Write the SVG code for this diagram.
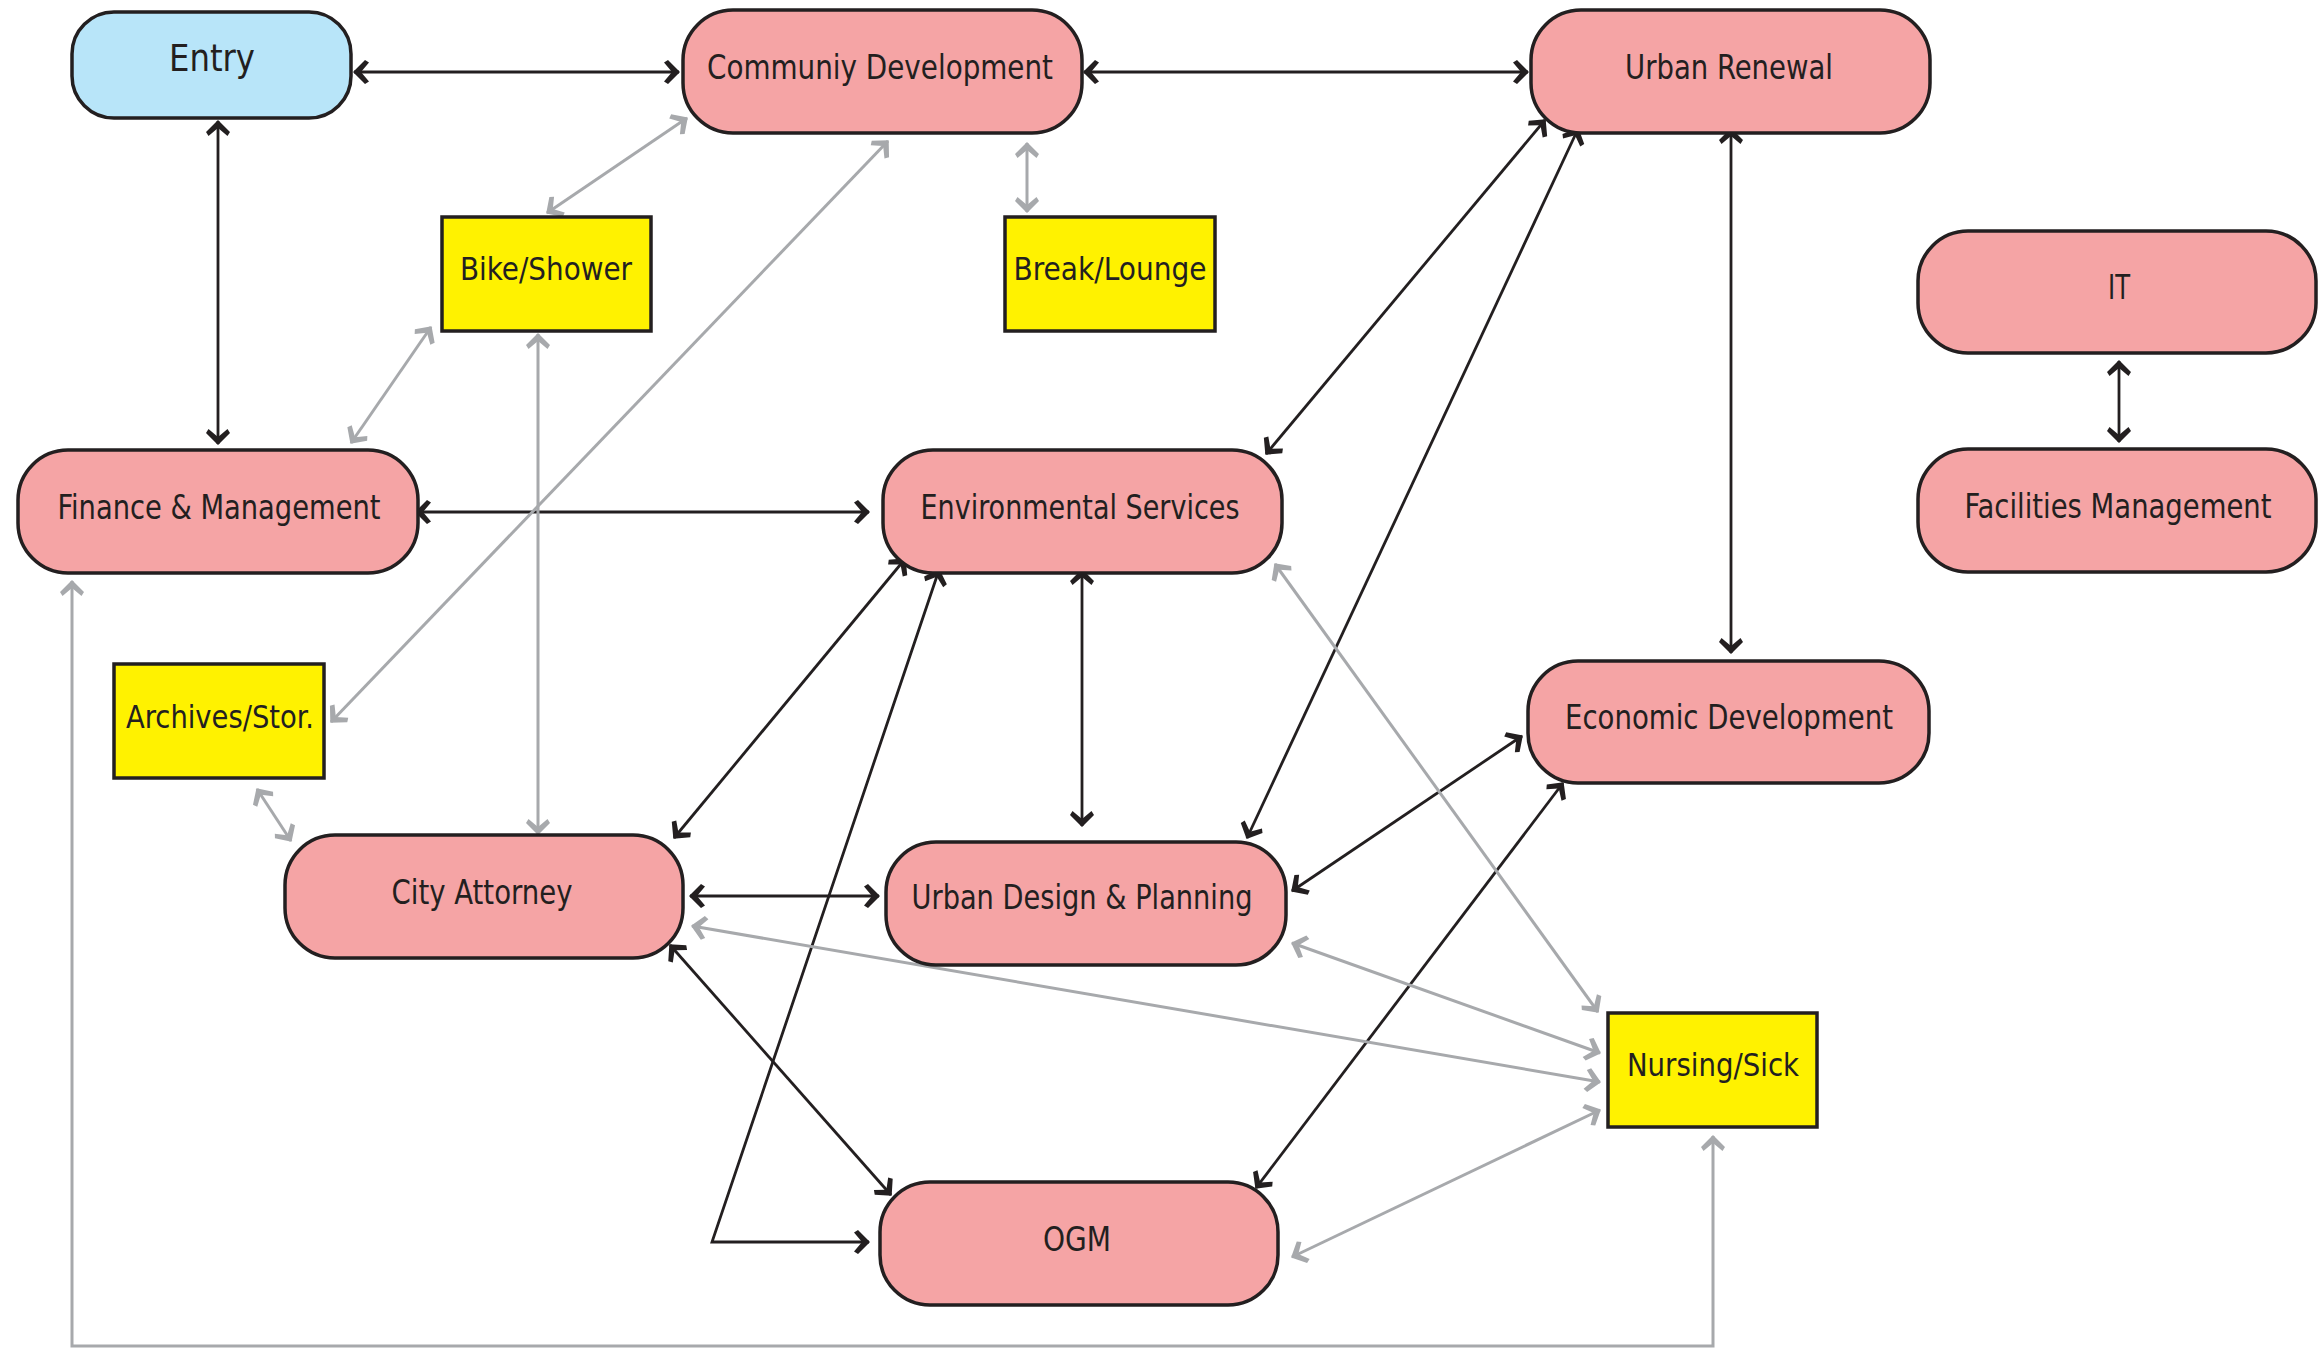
<svg xmlns="http://www.w3.org/2000/svg" width="2318" height="1352" viewBox="0 0 2318 1352">
<style>
.pk{fill:#F5A4A5;stroke:#231F20;stroke-width:3.5}
.bl{fill:#B8E5F9;stroke:#231F20;stroke-width:3.5}
.yl{fill:#FFF200;stroke:#231F20;stroke-width:3.5}
.t{font-family:"DejaVu Sans Condensed","DejaVu Sans","Liberation Sans",sans-serif;font-size:34px;fill:#231F20;text-anchor:middle}
.te{font-family:"DejaVu Sans Condensed","DejaVu Sans","Liberation Sans",sans-serif;font-size:38px;fill:#231F20;text-anchor:middle}
.ty{font-family:"DejaVu Sans Condensed","DejaVu Sans","Liberation Sans",sans-serif;font-size:32px;fill:#231F20;text-anchor:middle}
.k{fill:none;stroke:#231F20;stroke-width:2.8;marker-start:url(#ak);marker-end:url(#ak)}
.g{fill:none;stroke:#A7A9AC;stroke-width:3;marker-start:url(#ag);marker-end:url(#ag)}
</style>
<defs>
<marker id="ak" viewBox="-18 -14 20 28" refX="0" refY="0" markerWidth="20" markerHeight="28" markerUnits="userSpaceOnUse" orient="auto-start-reverse">
<polygon points="1,0 -11,-12 -15,-9.5 -7,0 -15,9.5 -11,12" fill="#231F20"/>
</marker>
<marker id="ag" viewBox="-18 -14 20 28" refX="0" refY="0" markerWidth="20" markerHeight="28" markerUnits="userSpaceOnUse" orient="auto-start-reverse">
<polygon points="1,0 -11,-12 -15,-9.5 -7,0 -15,9.5 -11,12" fill="#A7A9AC"/>
</marker>
</defs>
<rect width="2318" height="1352" fill="#FFFFFF"/>
<g id="connectors">
<line class="k" x1="354" y1="72" x2="679" y2="72"/>
<line class="k" x1="1084" y1="72" x2="1528" y2="72"/>
<line class="k" x1="218" y1="121" x2="218" y2="444"/>
<line class="k" x1="416" y1="512" x2="869" y2="512"/>
<line class="k" x1="1545" y1="120" x2="1266" y2="454"/>
<line class="k" x1="1578" y1="129" x2="1247" y2="838"/>
<line class="k" x1="1731" y1="129" x2="1731" y2="653"/>
<line class="k" x1="905" y1="559" x2="674" y2="838"/>
<polyline class="k" points="939,570 712,1242 869,1242"/>
<line class="k" x1="1082" y1="570" x2="1082" y2="826"/>
<line class="k" x1="690" y1="896" x2="879" y2="896"/>
<line class="k" x1="670" y1="945" x2="891" y2="1195"/>
<line class="k" x1="1522" y1="736" x2="1292" y2="891"/>
<line class="k" x1="1563" y1="783" x2="1256" y2="1188"/>
<line class="k" x1="2119" y1="361" x2="2119" y2="442"/>
<line class="g" x1="547" y1="213" x2="687" y2="118"/>
<line class="g" x1="1027" y1="143" x2="1027" y2="212"/>
<line class="g" x1="431" y1="327" x2="351" y2="443"/>
<line class="g" x1="538" y1="334" x2="538" y2="834"/>
<line class="g" x1="888" y1="141" x2="331" y2="722"/>
<line class="g" x1="257" y1="789" x2="291" y2="841"/>
<polyline class="g" points="72,581 72,1346 1713,1346 1713,1136"/>
<line class="g" x1="1275" y1="564" x2="1598" y2="1012"/>
<line class="g" x1="692" y1="926" x2="1600" y2="1082"/>
<line class="g" x1="1292" y1="943" x2="1600" y2="1053"/>
<line class="g" x1="1292" y1="1257" x2="1600" y2="1110"/>
</g>
<g id="entry"><rect class="bl" x="72" y="12" width="279" height="106" rx="42"/><text class="te" x="212" y="71" textLength="86" lengthAdjust="spacingAndGlyphs">Entry</text></g>
<g id="community-development"><rect class="pk" x="683" y="10" width="399" height="123" rx="50"/><text class="t" x="880" y="79" textLength="346" lengthAdjust="spacingAndGlyphs">Communiy Development</text></g>
<g id="urban-renewal"><rect class="pk" x="1531" y="10" width="399" height="123" rx="50"/><text class="t" x="1729" y="79" textLength="208" lengthAdjust="spacingAndGlyphs">Urban Renewal</text></g>
<g id="it"><rect class="pk" x="1918" y="231" width="398" height="122" rx="50"/><text class="t" x="2119" y="299" textLength="22" lengthAdjust="spacingAndGlyphs">IT</text></g>
<g id="facilities-management"><rect class="pk" x="1918" y="449" width="398" height="123" rx="50"/><text class="t" x="2118" y="518" textLength="307" lengthAdjust="spacingAndGlyphs">Facilities Management</text></g>
<g id="finance-management"><rect class="pk" x="18" y="450" width="400" height="123" rx="50"/><text class="t" x="219" y="519" textLength="323" lengthAdjust="spacingAndGlyphs">Finance &amp; Management</text></g>
<g id="environmental-services"><rect class="pk" x="883" y="450" width="399" height="123" rx="50"/><text class="t" x="1080" y="519" textLength="319" lengthAdjust="spacingAndGlyphs">Environmental Services</text></g>
<g id="bike-shower"><rect class="yl" x="442" y="217" width="209" height="114"/><text class="ty" x="546" y="280" textLength="172" lengthAdjust="spacingAndGlyphs">Bike/Shower</text></g>
<g id="break-lounge"><rect class="yl" x="1005" y="217" width="210" height="114"/><text class="ty" x="1110" y="280" textLength="193" lengthAdjust="spacingAndGlyphs">Break/Lounge</text></g>
<g id="archives-stor"><rect class="yl" x="114" y="664" width="210" height="114"/><text class="ty" x="220" y="728" textLength="188" lengthAdjust="spacingAndGlyphs">Archives/Stor.</text></g>
<g id="city-attorney"><rect class="pk" x="285" y="835" width="398" height="123" rx="50"/><text class="t" x="482" y="904" textLength="181" lengthAdjust="spacingAndGlyphs">City Attorney</text></g>
<g id="urban-design-planning"><rect class="pk" x="886" y="842" width="400" height="123" rx="50"/><text class="t" x="1082" y="909" textLength="341" lengthAdjust="spacingAndGlyphs">Urban Design &amp; Planning</text></g>
<g id="ogm"><rect class="pk" x="880" y="1182" width="398" height="123" rx="50"/><text class="t" x="1077" y="1251" textLength="68" lengthAdjust="spacingAndGlyphs">OGM</text></g>
<g id="economic-development"><rect class="pk" x="1528" y="661" width="401" height="122" rx="50"/><text class="t" x="1729" y="729" textLength="328" lengthAdjust="spacingAndGlyphs">Economic Development</text></g>
<g id="nursing-sick"><rect class="yl" x="1608" y="1013" width="209" height="114"/><text class="ty" x="1713" y="1076" textLength="172" lengthAdjust="spacingAndGlyphs">Nursing/Sick</text></g>
</svg>
